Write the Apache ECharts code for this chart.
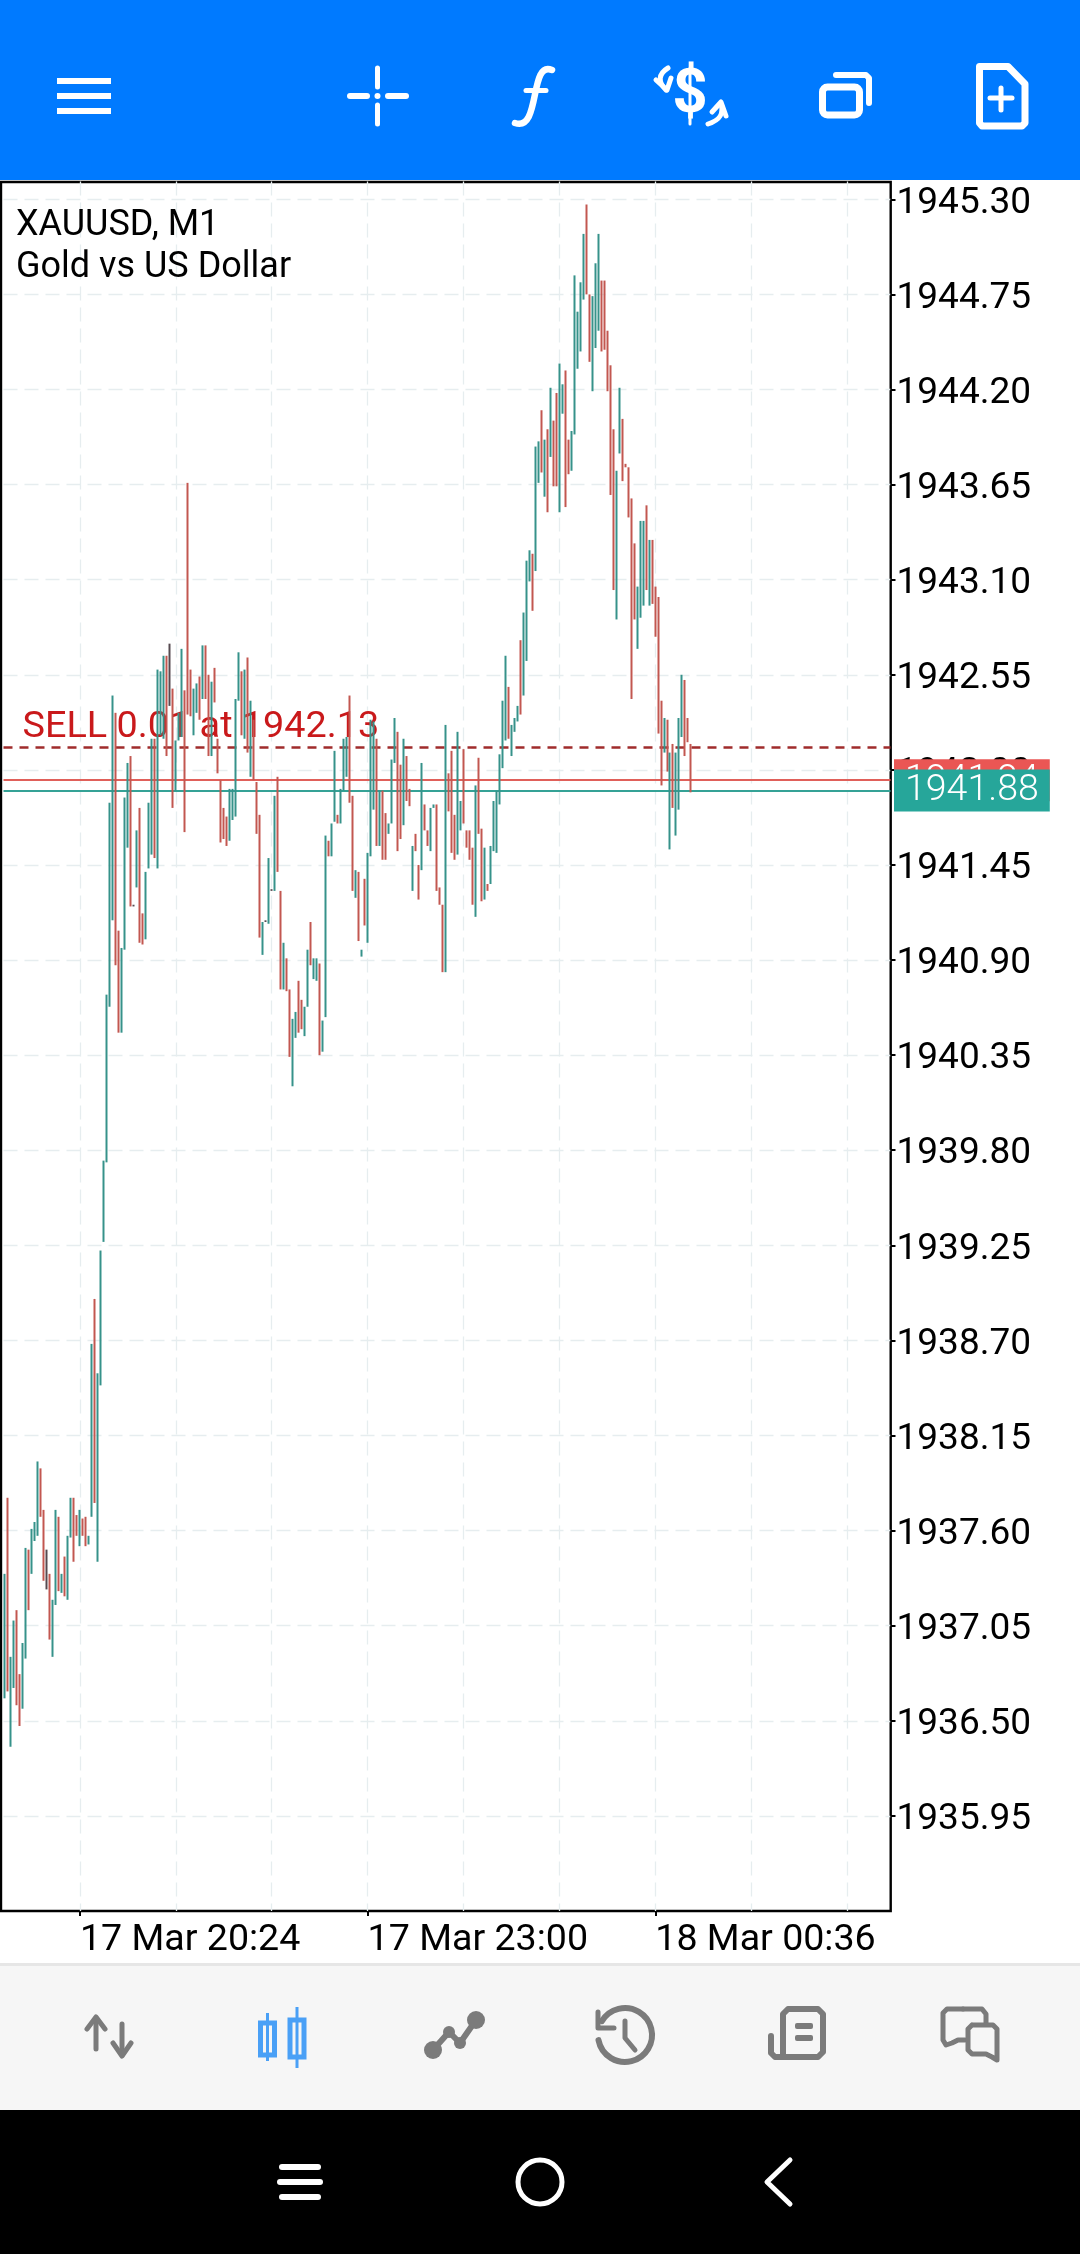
<!DOCTYPE html>
<html>
<head>
<meta charset="utf-8">
<style>html,body{margin:0;padding:0;background:#fff}#c{width:1080px;height:2254px}</style>
<script src="https://cdn.jsdelivr.net/npm/echarts@6/dist/echarts.min.js"></script>
</head>
<body>
<div id="c"></div>
<script>
const symbolName = 'XAUUSD, M1';
const symbolDesc = 'Gold vs US Dollar';
const slotCount = 296;
const xTickIndex = [25, 121, 217];
const xTickLabels = ['17 Mar 20:24', '17 Mar 23:00', '18 Mar 00:36'];
const yTicks = [1945.30,1944.75,1944.20,1943.65,1943.10,1942.55,1942.00,1941.45,1940.90,1940.35,1939.80,1939.25,1938.70,1938.15,1937.60,1937.05,1936.50,1935.95];
const askPrice = 1941.94;
const bidPrice = 1941.88;
const orderPrice = 1942.13;
const orderText = 'SELL 0.01 at 1942.13';
const dirs = ('TRTTRRTTRT'+'TTRRDRTTRT'+'RTTRRTRRTT'+'RTTTTTTRRT'+'TTRDTRRTTT'+'RTTTRDRTTT'+'RRRTTRTRRT'+'RRRRRTTTTR'+
  'TRTRRRTDTD'+'TRRTRRTTRR'+'TTRTTRTTRT'+'TRTTTRRTRT'+'RTTTRTRRTT'+'TRRTRRTRRT'+'RRTTRRRTRR'+'RTTRRRRTRR'+
  'TRTTTTTTRT'+'TTRTTTRTTR'+'TRTRRTTRRT'+'TTTTRRTTTR'+'RRRRTTRRRR'+'RTTTRTRRRR'+'TRTRTTTRRR').split('');
const highs = [
1937.35,1937.79,1936.87,1937.08,1937.14,1936.77,1936.95,1937.50,1937.49,1937.61,
1937.65,1938.00,1937.96,1937.72,1937.49,1937.35,1937.20,1937.72,1937.68,1937.35,
1937.45,1937.57,1937.79,1937.79,1937.69,1937.72,1937.67,1937.68,1937.57,1938.68,
1938.94,1938.51,1939.22,1939.74,1940.70,1941.81,1942.43,1942.33,1941.07,1940.97,
1941.84,1942.04,1942.08,1941.22,1941.65,1941.78,1941.17,1941.41,1941.81,1942.18,
1942.18,1942.58,1942.57,1942.66,1942.66,1942.73,1942.47,1942.17,1942.33,1942.70,
1942.46,1943.66,1942.58,1942.47,1942.50,1942.54,1942.72,1942.72,1942.55,1942.51,
1942.59,1942.18,1941.94,1941.78,1941.73,1941.89,1941.89,1942.41,1942.68,1942.57,
1942.58,1942.65,1942.40,1942.29,1941.93,1941.74,1941.12,1941.13,1941.49,1941.31,
1941.85,1941.96,1941.30,1941.00,1940.91,1940.73,1940.56,1940.60,1940.78,1940.67,
1940.63,1940.96,1941.12,1940.91,1940.91,1940.88,1940.55,1941.62,1941.59,1941.69,
1942.11,1941.74,1941.89,1942.18,1942.19,1942.43,1941.85,1941.42,1941.41,1940.96,
1941.37,1941.52,1942.29,1942.28,1942.18,1941.88,1941.88,1941.75,1941.69,1942.06,
1942.30,1942.22,1942.03,1942.18,1942.08,1941.89,1941.56,1941.63,1941.45,1942.04,
1941.80,1941.65,1941.78,1941.80,1941.80,1941.32,1941.22,1942.26,1941.98,1942.11,
1941.74,1942.22,1941.82,1942.12,1941.65,1941.65,1941.55,1941.91,1942.07,1941.66,
1941.55,1941.34,1941.56,1941.82,1941.88,1942.09,1942.40,1942.66,1942.48,1942.26,
1942.30,1942.37,1942.75,1942.91,1943.21,1943.27,1943.25,1943.87,1943.90,1944.08,
1943.91,1943.97,1944.21,1944.02,1944.18,1944.35,1944.23,1944.31,1943.91,1943.96,
1944.86,1944.65,1944.82,1945.10,1945.27,1944.75,1944.74,1944.93,1945.10,1944.83,
1944.83,1944.54,1944.34,1943.97,1943.73,1944.21,1944.03,1943.77,1943.75,1943.57,
1943.31,1943.06,1943.44,1943.44,1943.53,1943.33,1943.33,1943.06,1943.00,1942.40,
1942.30,1942.29,1942.10,1942.15,1942.10,1942.30,1942.55,1942.52,1942.30,1942.15];
const lows = [
1936.63,1936.67,1936.35,1936.69,1936.59,1936.47,1936.57,1936.86,1937.14,1937.35,
1937.54,1937.57,1937.68,1937.31,1937.26,1936.97,1936.87,1937.17,1937.25,1937.24,
1937.22,1937.20,1937.56,1937.42,1937.57,1937.51,1937.57,1937.51,1937.52,1937.68,
1937.76,1937.42,1938.44,1939.27,1939.73,1940.63,1941.13,1940.87,1940.48,1940.48,
1940.96,1941.55,1941.21,1941.21,1941.32,1941.00,1940.99,1941.02,1941.43,1941.51,
1941.49,1941.43,1942.20,1942.18,1942.08,1942.37,1941.78,1941.88,1942.17,1942.19,
1941.64,1942.32,1942.31,1942.20,1942.33,1942.29,1942.41,1942.41,1942.08,1942.08,
1942.39,1941.98,1941.58,1941.60,1941.56,1941.59,1941.71,1941.73,1942.40,1942.20,
1942.18,1942.10,1941.96,1941.94,1941.63,1941.03,1940.93,1941.12,1941.11,1941.30,
1941.30,1941.41,1940.73,1940.73,1940.72,1940.34,1940.17,1940.45,1940.48,1940.50,
1940.46,1940.63,1940.87,1940.79,1940.78,1940.35,1940.37,1940.57,1941.50,1941.50,
1941.70,1941.69,1941.69,1941.88,1941.96,1941.81,1941.30,1941.26,1941.01,1940.92,
1941.10,1941.00,1941.50,1941.77,1941.56,1941.56,1941.48,1941.48,1941.63,1941.69,
1942.04,1941.53,1941.60,1941.68,1941.82,1941.79,1941.30,1941.53,1941.25,1941.42,
1941.65,1941.56,1941.53,1941.78,1941.30,1941.22,1940.83,1940.83,1941.76,1941.52,
1941.48,1941.51,1941.65,1941.69,1941.55,1941.48,1941.22,1941.15,1941.63,1941.24,
1941.25,1941.30,1941.34,1941.53,1941.52,1941.80,1942.01,1942.17,1942.18,1942.08,
1942.22,1942.28,1942.32,1942.43,1942.63,1943.09,1942.92,1943.15,1943.66,1943.72,
1943.58,1943.49,1943.81,1943.64,1943.64,1943.49,1944.06,1943.52,1943.71,1943.73,
1943.94,1944.32,1944.42,1944.72,1944.75,1944.36,1944.19,1944.44,1944.54,1944.42,
1944.43,1944.19,1943.59,1943.04,1942.87,1943.83,1943.67,1943.75,1943.46,1942.41,
1942.87,1942.70,1942.88,1942.95,1943.04,1942.95,1942.96,1942.77,1942.21,1941.91,
1942.10,1941.99,1941.54,1941.78,1941.62,1941.77,1942.19,1942.08,1942.16,1941.87];

const TEAL = '#36928a', RED = '#c25750', DARK = '#564a50';
const FONT = 'Roboto';
const categories = Array.from({length: slotCount}, (_, i) => {
  const k = xTickIndex.indexOf(i);
  return k >= 0 ? xTickLabels[k] : String(i);
});
const candles = highs.map((h, i) => {
  const l = lows[i], d = dirs[i];
  if (d === 'D') return {value: [l, h, l, h], itemStyle: {color: DARK, color0: DARK, borderColor: DARK, borderColor0: DARK}};
  return {value: d === 'T' ? [l, h, l, h] : [h, l, l, h]};
});

const WHITE = '#fff', GREY = '#7b7b7b', BLUE = '#4aa0f6';
const rect = (x, y, w, h, fill, r) => ({type: 'rect', silent: true, shape: {x, y, width: w, height: h, r: r || 0}, style: {fill}});
const frame = (x, y, w, h, stroke, lw, r) => ({type: 'rect', silent: true, shape: {x, y, width: w, height: h, r: r || 0}, style: {fill: 'none', stroke, lineWidth: lw}});
const poly = (points, stroke, lw, smooth) => ({type: 'polyline', silent: true, shape: {points, smooth: smooth || 0}, style: {fill: 'none', stroke, lineWidth: lw, lineCap: 'round', lineJoin: 'round'}});
const dot = (cx, cy, r, fill) => ({type: 'circle', silent: true, shape: {cx, cy, r}, style: {fill}});
const ring = (cx, cy, r, stroke, lw) => ({type: 'circle', silent: true, shape: {cx, cy, r}, style: {fill: 'none', stroke, lineWidth: lw}});
const curve = (x1, y1, cpx1, cpy1, cpx2, cpy2, x2, y2, stroke, lw) => ({type: 'bezierCurve', silent: true, shape: {x1, y1, cpx1, cpy1, cpx2, cpy2, x2, y2}, style: {fill: 'none', stroke, lineWidth: lw, lineCap: 'round'}});
const arc = (cx, cy, r, a0, a1, stroke, lw) => ({type: 'arc', silent: true, shape: {cx, cy, r, startAngle: a0, endAngle: a1, clockwise: true}, style: {fill: 'none', stroke, lineWidth: lw, lineCap: 'round'}});

const chrome = [
  rect(0, 0, 1080, 180, '#007aff'),
  rect(0, 1963, 1080, 3, '#e6e6e6'),
  rect(0, 1966, 1080, 144, '#f6f6f6'),
  rect(0, 2110, 1080, 144, '#000'),
  // top bar icons
  rect(57, 78, 54, 6, WHITE), rect(57, 93, 54, 6, WHITE), rect(57, 108, 54, 6, WHITE),
  poly([[377.5, 68], [377.5, 87]], WHITE, 5), poly([[377.5, 105], [377.5, 124]], WHITE, 5),
  poly([[350, 96], [367, 96]], WHITE, 6), poly([[388, 96], [406, 96]], WHITE, 6), dot(377.5, 96, 3, WHITE),
  curve(552, 70, 529, 60, 541, 132, 515, 123, WHITE, 6.5), poly([[526, 90.5], [546, 90.5]], WHITE, 5),
  poly([[690, 68], [690, 124]], WHITE, 3),
  {type: 'text', silent: true, style: {x: 690, y: 96, text: '$', fill: WHITE, font: 'bold 62px Roboto', textAlign: 'center', textVerticalAlign: 'middle', align: 'center', verticalAlign: 'middle'}},
  curve(668, 68, 658, 74, 658, 82, 666, 90, WHITE, 5), poly([[656, 80], [667, 90], [671, 78]], WHITE, 5),
  curve(708, 124, 720, 120, 724, 114, 721, 104, WHITE, 5), poly([[712, 112], [721, 102], [726, 116]], WHITE, 5),
  frame(822.5, 87, 37, 28, WHITE, 7, 5),
  poly([[836, 75], [866, 75], [869, 78], [869, 103]], WHITE, 6),
  poly([[979.5, 66.5], [1008, 66.5], [1025, 84], [1025, 123], [1022, 126], [982, 126], [979.5, 123], [979.5, 66.5]], WHITE, 7),
  poly([[1001, 88], [1001, 110]], WHITE, 5), poly([[990, 98], [1012, 98]], WHITE, 5),
  // bottom toolbar icons
  poly([[96, 2018], [96, 2049]], GREY, 5), poly([[87, 2029], [96, 2017], [105, 2029]], GREY, 5),
  poly([[122, 2024], [122, 2055]], GREY, 5), poly([[113, 2043], [122, 2056], [131, 2043]], GREY, 5),
  rect(266, 2013, 3, 48, BLUE), rect(295.5, 2007, 3, 61, BLUE),
  frame(260.5, 2023, 14, 32, BLUE, 5), frame(290, 2020, 14, 37, BLUE, 5),
  poly([[433, 2050], [449, 2032], [460, 2043], [476, 2020]], GREY, 6),
  dot(433, 2050, 9, GREY), dot(449, 2032, 6, GREY), dot(460, 2043, 6, GREY), dot(476, 2020, 9, GREY),
  arc(625, 2035, 27, -2.6, 2.95, GREY, 6),
  poly([[598, 2012], [598, 2028], [614, 2028]], GREY, 5),
  poly([[625, 2021], [625, 2038], [635, 2050]], GREY, 5),
  poly([[783, 2054], [783, 2014], [788, 2009], [818, 2009], [823, 2014], [823, 2052], [818, 2057], [775, 2057], [771, 2053], [771, 2036]], GREY, 6),
  rect(795, 2023, 18, 6, GREY, 2), rect(795, 2035, 18, 6, GREY, 2),
  poly([[963, 2009], [947, 2009], [943, 2013], [943, 2040], [946, 2045], [952, 2043], [958, 2040], [965, 2040]], GREY, 5),
  poly([[963, 2009], [982, 2009], [986, 2014], [986, 2024]], GREY, 5),
  poly([[972, 2025], [993, 2025], [997, 2029], [997, 2060], [992, 2057], [986, 2054], [972, 2054], [968, 2050], [968, 2029], [972, 2025]], GREY, 5),
  // navigation bar
  rect(279, 2164, 42, 6, WHITE, 3), rect(277, 2179, 46, 6, WHITE, 3), rect(279, 2194, 42, 6, WHITE, 3),
  ring(540, 2182, 22, WHITE, 5),
  poly([[790, 2160], [767, 2182], [790, 2204]], WHITE, 5),
  // plot frame
  frame(1, 182, 889.7, 1729, '#000', 2.4)
];

const chart = echarts.init(document.getElementById('c'), null, {renderer: 'canvas'});
chart.setOption({
  animation: false,
  backgroundColor: '#fff',
  title: {
    text: symbolName + '\n' + symbolDesc, left: 11, top: 200,
    textStyle: {color: '#000', fontFamily: FONT, fontSize: 36, fontWeight: 400, lineHeight: 42}
  },
  grid: {left: 3.5, width: 887, top: 181.5, height: 1729.5, show: false},
  xAxis: {
    type: 'category', data: categories, boundaryGap: true,
    axisLine: {show: false},
    axisTick: {show: true, alignWithLabel: true, length: 5, interval: (i) => xTickIndex.includes(i), lineStyle: {color: '#000', width: 2}},
    axisLabel: {
      show: true, align: 'left', margin: 11, interval: (i) => xTickIndex.includes(i),
      color: '#000', fontFamily: FONT, fontSize: 37.6, hideOverlap: false
    },
    splitLine: {show: true, alignWithLabel: true, interval: (i) => (i - 25) % 32 === 0 && i >= 25, lineStyle: {color: '#e6edef', width: 1.3, type: [14, 7]}}
  },
  yAxis: {
    type: 'value', position: 'right', min: 1935.40, max: 1945.403, scale: true,
    axisLine: {show: false},
    axisTick: {show: true, length: 5, customValues: yTicks, lineStyle: {color: '#000', width: 2}},
    axisLabel: {show: true, margin: 6, customValues: yTicks, formatter: (v) => v.toFixed(2), color: '#000', fontFamily: FONT, fontSize: 37, verticalAlign: 'top', lineHeight: 8, showMinLabel: true, showMaxLabel: true, hideOverlap: false},
    splitLine: {show: true, lineStyle: {color: '#e6edef', width: 1.3, type: [14, 7]}}
  },
  series: [{
    type: 'candlestick', data: candles, barWidth: 1, clip: true,
    itemStyle: {color: TEAL, color0: RED, borderColor: TEAL, borderColor0: RED, borderWidth: 2},
    markLine: {
      silent: true, symbol: 'none', animation: false, precision: 2, z: 1,
      data: [
        {yAxis: orderPrice, lineStyle: {color: '#a02c2c', width: 2.5, type: [9, 7]},
          label: {show: true, position: 'insideStartTop', distance: 1, padding: [0, 0, 0, 18], formatter: orderText, color: '#c9191b', fontFamily: FONT, fontSize: 37.8}},
        {yAxis: askPrice, lineStyle: {color: '#e0605a', width: 2, type: 'solid'},
          label: {show: true, position: 'end', distance: 3.5, formatter: askPrice.toFixed(2), color: '#fff', fontFamily: FONT, fontWeight: 300, fontSize: 37.5, backgroundColor: '#ea5654', padding: [4, 11, 4, 11], lineHeight: 34}},
        {yAxis: bidPrice, lineStyle: {color: '#35a296', width: 2, type: 'solid'},
          label: {show: true, position: 'end', distance: 3.5, formatter: bidPrice.toFixed(2), color: '#fff', fontFamily: FONT, fontWeight: 300, fontSize: 37.5, backgroundColor: '#26a69a', padding: [4, 11, 4, 11], lineHeight: 34}}
      ]
    }
  }],
  graphic: {elements: chrome}
});
</script>
</body>
</html>
